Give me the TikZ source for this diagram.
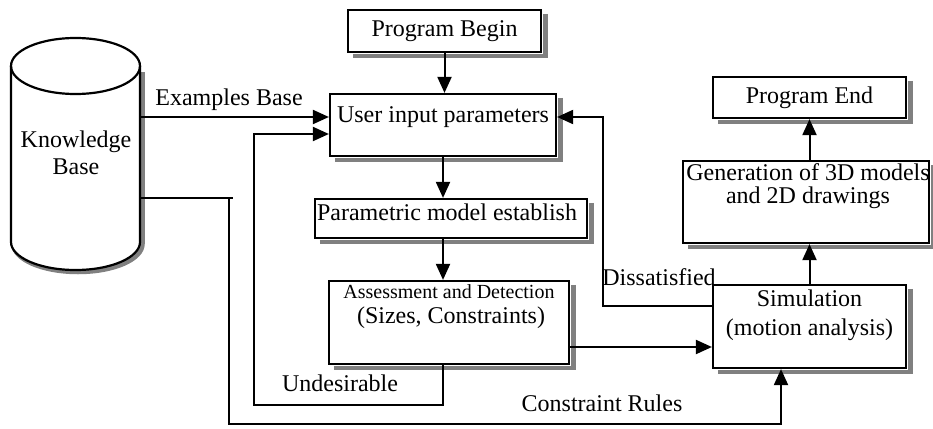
\documentclass[tikz,border=0pt]{standalone}
\usepackage{fontspec}
\setmainfont{Liberation Serif}
\usetikzlibrary{arrows.meta,calc,backgrounds}
\definecolor{shadowgray}{RGB}{128,128,128}
\begin{document}
\begin{tikzpicture}[x=1pt,y=-1pt,
  every node/.style={font=\fontsize{24}{28}\selectfont, inner sep=0pt},
  box/.style={draw, line width=2.2pt, fill=white, inner sep=0pt},
  arr/.style={line width=2pt, -{Triangle[length=16pt,width=14pt]}},
  ln/.style={line width=2pt}]
\useasboundingbox (0,0) rectangle (933,428);

% Knowledge base cylinder
\draw[shadowgray, line width=4.5pt] (142.5,72) -- (142.5,244) arc[start angle=0,end angle=180,x radius=64.5,y radius=28];
\draw[line width=2.2pt, fill=white] (11,66) -- (11,242) arc[start angle=180,end angle=0,x radius=64.5,y radius=28]
  -- (140,66) arc[start angle=0,end angle=-180,x radius=64.5,y radius=28] -- cycle;
\draw[line width=2.2pt] (11,66) arc[start angle=180,end angle=0,x radius=64.5,y radius=28];
\node[align=center, font=\fontsize{24}{27}\selectfont] (kb) at (76,153) {Knowledge\\Base};
\coordinate (kbE1) at (140,117);
\coordinate (kbE2) at (140,198);

% boxes
\node[box, minimum width=193pt, minimum height=42pt] (begin) at (444.5,31) {Program Begin};
\node[box, minimum width=226pt, minimum height=62pt] (user) at (443,125) {};
\node (usert) at (443,117) {User input parameters};
\node[box, minimum width=272pt, minimum height=39pt] (param) at (451,218.5) {};
\node (paramt) at (447,212) {Parametric model establish};
\node[box, minimum width=240pt, minimum height=83pt] (assess) at (449,322.5) {};
\node[font=\fontsize{20}{24}\selectfont] (assesst1) at (449,292) {Assessment and Detection};
\node (assesst2) at (451,318) {(Sizes, Constraints)};
\node[box, minimum width=193pt, minimum height=83pt] (sim) at (809.5,326.5) {};
\node[align=center, font=\fontsize{24}{29}\selectfont] (simt) at (809.5,315) {Simulation\\(motion analysis)};
\node[box, minimum width=246pt, minimum height=82pt] (gen) at (806,202) {};
\node[align=center, font=\fontsize{24}{23}\selectfont] (gent) at (808,186) {Generation of 3D models\\and 2D drawings};
\node[box, minimum width=193pt, minimum height=41pt] (end) at (809.5,97.5) {Program End};

% shadows (right and bottom strips)
\foreach \b in {begin,user,param,assess,sim,gen,end}{
  \draw[shadowgray, line width=4.9pt] ([xshift=3.55pt,yshift=-5pt]\b.north east) -- ([xshift=3.55pt,yshift=-5pt]\b.south east);
  \draw[shadowgray, line width=3.9pt] ([xshift=6pt,yshift=-3.05pt]\b.south west) -- ([xshift=6pt,yshift=-3.05pt]\b.south east);
}

% connectors
\draw[arr] (begin.south) -- (begin.south |- user.north);
\draw[arr] (user.south) -- (user.south |- param.north);
\draw[arr] (user.south |- param.south) -- (user.south |- assess.north);

\coordinate (ae) at ([yshift=-24.5pt]assess.east);
\draw[arr] (ae) -- (ae -| sim.west);

\draw[arr] (kbE1) -- (kbE1 -| user.west);
\node (exl) at (229,100) {Examples Base};

\coordinate (u2) at ([yshift=-9pt]user.west);
\draw[arr] (user.south |- assess.south) |- (254,405) |- (u2);
\node (undl) at (340,383) {Undesirable};

\coordinate (s2) at ([xshift=-28.5pt]sim.south);
\draw[ln] (kbE2) -- (233,198);
\draw[arr] (229,198) |- (s2 |- 0,424) -- (s2);
\node (crl) at (602,403) {Constraint Rules};

\coordinate (s1) at ([yshift=20.5pt]sim.west);
\coordinate (u1) at ([yshift=8pt]user.east);
\draw[arr] (s1) -- (603,306) |- (u1);
\node (disl) at (659,277) {Dissatisfied};

\draw[arr] (sim.north) -- (sim.north |- gen.south);
\draw[arr] (end.south |- gen.north) -- (end.south);
\end{tikzpicture}
\end{document}
